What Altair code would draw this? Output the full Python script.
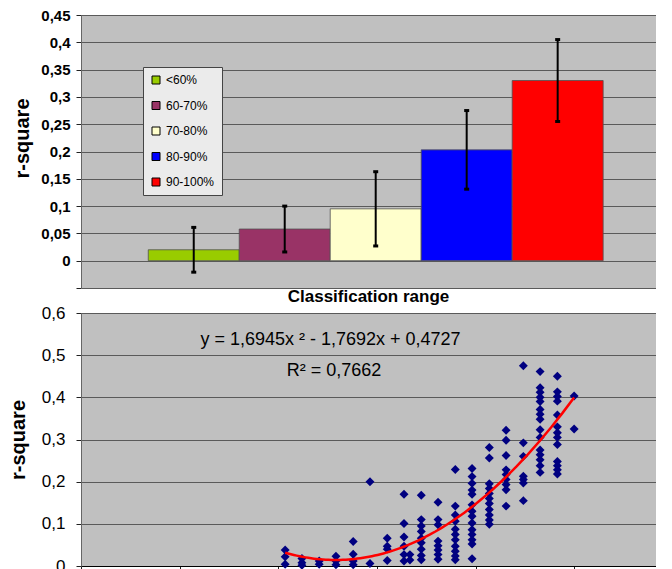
import altair as alt
import pandas as pd

# ---------------- top panel data ----------------
ranges = ["<60%", "60-70%", "70-80%", "80-90%", "90-100%"]
mean_r2 = [0.020, 0.058, 0.095, 0.203, 0.330]
err_r2 = [0.041, 0.042, 0.068, 0.072, 0.075]
bar_colors = ["#99CC00", "#993366", "#FFFFCC", "#0000FF", "#FF0000"]
top_ticks = [-0.05, 0.0, 0.05, 0.1, 0.15, 0.2, 0.25, 0.3, 0.35, 0.4, 0.45]

# ---------------- bottom panel data ----------------
col_x = [0.414, 0.448, 0.483, 0.517, 0.552, 0.586, 0.621, 0.655, 0.667, 0.690,
         0.724, 0.759, 0.793, 0.828, 0.862, 0.897, 0.931, 0.966, 1.000]
col_y = [
    [0.038, 0.022, 0.004],
    [0.018, 0.008, 0.002],
    [0.012, 0.004],
    [0.023, 0.012, 0.003],
    [0.058, 0.028, 0.012, 0.003],
    [0.200, 0.006],
    [0.066, 0.047, 0.040, 0.013],
    [0.170, 0.101, 0.069, 0.047, 0.027, 0.012],
    [0.027, 0.014],
    [0.168, 0.110, 0.095, 0.082, 0.066, 0.055, 0.040, 0.025, 0.015],
    [0.151, 0.110, 0.098, 0.059, 0.048, 0.038, 0.027, 0.016],
    [0.229, 0.142, 0.121, 0.106, 0.087, 0.075, 0.062, 0.047, 0.035, 0.024, 0.015],
    [0.231, 0.212, 0.196, 0.180, 0.170, 0.145, 0.130, 0.118, 0.102, 0.086, 0.075, 0.062, 0.052, 0.017],
    [0.281, 0.256, 0.195, 0.184, 0.172, 0.160, 0.148, 0.134, 0.121, 0.109, 0.099],
    [0.322, 0.298, 0.262, 0.228, 0.217, 0.205, 0.193, 0.181, 0.142],
    [0.475, 0.292, 0.260, 0.213, 0.205, 0.197, 0.155],
    [0.461, 0.423, 0.412, 0.400, 0.390, 0.371, 0.360, 0.348, 0.323, 0.305, 0.275, 0.264, 0.252, 0.238, 0.222],
    [0.450, 0.413, 0.402, 0.391, 0.358, 0.330, 0.316, 0.305, 0.288, 0.248, 0.238, 0.228, 0.218],
    [0.403, 0.325],
]
bottom_y_ticks = [0.0, 0.1, 0.2, 0.3, 0.4, 0.5, 0.6]
bottom_x_ticks = [0.0, 0.2, 0.4, 0.6, 0.8, 1.0]
ann_labels = ["y = 1,6945x \u00b2 - 1,7692x + 0,4727", "R\u00b2 = 0,7662"]
ann_x = [0.506, 0.513]
ann_y = [0.535, 0.462]

FONT = "Liberation Sans"
comma_fmt = "datum.value < -0.01 ? '' : replace(format(datum.value, '.2~f'), '.', ',')"
PLOT_W = 575

# ---------------- top chart ----------------
bar_df = pd.DataFrame({"range": ranges, "r2": mean_r2, "err": err_r2})
bar_df["lo"] = bar_df["r2"] - bar_df["err"]
bar_df["hi"] = bar_df["r2"] + bar_df["err"]

x_axis_top = alt.Axis(title="Classification range", labels=False, ticks=False, domain=False,
                      titlePadding=0, titleFontSize=17, titleFontWeight="bold", titleFont=FONT,
                      titleX=287)
x_scale_top = alt.Scale(paddingInner=0, paddingOuter=0.66, align=0.56)
y_scale_top = alt.Scale(domain=[-0.05, 0.45], nice=False, zero=False)
y_axis_top = alt.Axis(values=top_ticks, labelExpr=comma_fmt, labelFontSize=15, labelFontWeight="bold",
                      labelFont=FONT, labelPadding=6, tickSize=5, labelOverlap=False, tickCount=11,
                      titleFontSize=20, titleFontWeight="bold", titleFont=FONT, titlePadding=8,
                      titleY=123)

bars = alt.Chart(bar_df).mark_bar(stroke="#505050", strokeWidth=0.8).encode(
    x=alt.X("range:N", sort=ranges, scale=x_scale_top, axis=x_axis_top),
    y=alt.Y("r2:Q", scale=y_scale_top, axis=y_axis_top, title="r-square"),
    color=alt.Color("range:N", sort=ranges, scale=alt.Scale(domain=ranges, range=bar_colors),
                    legend=alt.Legend(title=None, orient="none", legendX=62, legendY=52,
                                      fillColor="#EBEBEB", strokeColor="#444444", padding=7,
                                      rowPadding=13.5, labelFontSize=12, labelFont=FONT,
                                      symbolType="square", symbolSize=64, symbolStrokeColor="black",
                                      symbolStrokeWidth=1, labelOffset=4)),
)
err_rules = alt.Chart(bar_df).mark_rule(color="black", strokeWidth=2).encode(
    x=alt.X("range:N", sort=ranges, scale=x_scale_top, axis=x_axis_top),
    y=alt.Y("lo:Q", scale=y_scale_top, axis=y_axis_top, title="r-square"),
    y2="hi:Q",
)
err_caps = alt.Chart(bar_df).transform_fold(["lo", "hi"], as_=["end", "val"]).mark_tick(
    color="black", thickness=3, size=5, opacity=1
).encode(
    x=alt.X("range:N", sort=ranges, scale=x_scale_top, axis=x_axis_top),
    y=alt.Y("val:Q", scale=y_scale_top, axis=y_axis_top, title="r-square"),
)
top = alt.layer(bars, err_rules, err_caps).properties(width=PLOT_W, height=273)

# ---------------- bottom chart ----------------
xs, ys = [], []
for cx, cys in zip(col_x, col_y):
    for v in cys:
        xs.append(cx)
        ys.append(v)
sc_df = pd.DataFrame({"x": xs, "y": ys})
ann_df = pd.DataFrame({"x": ann_x, "y": ann_y, "label": ann_labels})

x_bot = alt.X("x:Q", scale=alt.Scale(domain=[0, 1.166], nice=False),
              axis=alt.Axis(values=bottom_x_ticks, grid=False, title=None, labels=False,
                            tickSize=5, domainColor="black"))
y_bot = alt.Y("y:Q", scale=alt.Scale(domain=[0, 0.6], nice=False),
              axis=alt.Axis(values=bottom_y_ticks, labelExpr=comma_fmt, labelFontSize=17, labelFont=FONT,
                            labelPadding=11, tickSize=5, labelOverlap=False,
                            titleFontSize=20, titleFontWeight="bold", titleFont=FONT, titlePadding=13),
              title="r-square")

points = alt.Chart(sc_df).mark_point(shape="diamond", filled=True, size=80, color="#000080", opacity=1).encode(
    x=x_bot, y=y_bot)
fit = alt.Chart(sc_df).transform_regression("x", "y", method="poly", order=2).mark_line(
    color="#FF0000", strokeWidth=2.5).encode(x=x_bot, y=y_bot)
texts = alt.Chart(ann_df).mark_text(fontSize=18, font=FONT, color="black", align="center",
                                    baseline="middle").encode(
    x=alt.X("x:Q"), y=alt.Y("y:Q"), text="label:N")
bottom = alt.layer(points, fit, texts).properties(width=PLOT_W, height=253)

chart = alt.vconcat(top, bottom, spacing=0).properties(padding=0).configure_view(
    fill="#C0C0C0", stroke=None
).configure_axis(
    gridColor="#5A5A5A", gridWidth=1, domainColor="#666666", tickColor="#222222",
    labelColor="black", titleColor="black", labelOverlap=False
)

chart.save("out.html", embed_options={"renderer": "svg", "actions": False})
